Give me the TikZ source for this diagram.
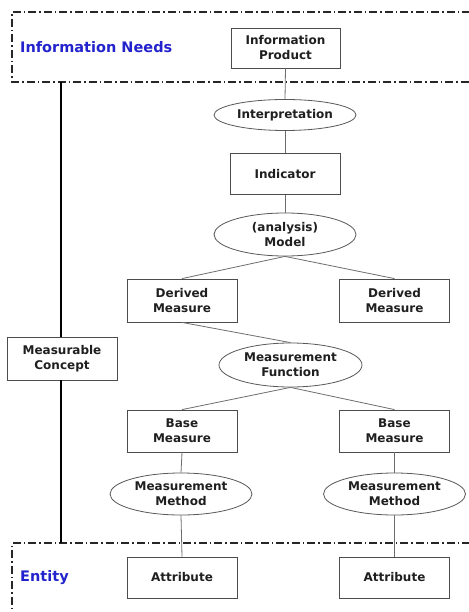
\documentclass[tikz,border=0pt]{standalone}
\usepackage{fontspec}
\setmainfont{DejaVu Sans}
\usetikzlibrary{shapes.geometric}
\definecolor{regblue}{RGB}{35,35,205}
\definecolor{edgegray}{RGB}{110,110,110}
\begin{document}
\begin{tikzpicture}[x=1pt,y=-1pt,
  lbl/.style={font=\fontsize{12}{15}\selectfont\bfseries, text=black!88, align=center, inner sep=0pt},
  boxnode/.style={lbl, draw=black!70, line width=0.8pt, minimum width=110pt, minimum height=41pt},
  ellnode/.style={lbl, ellipse, draw=black!65, line width=0.8pt, minimum width=142pt},
  link/.style={draw=edgegray, line width=0.8pt},
  region/.style={draw=black!85, line width=1.4pt, dash pattern=on 8pt off 3pt on 1.5pt off 3pt},
  regionlabel/.style={font=\fontsize{14.5}{17}\selectfont\bfseries, text=regblue, anchor=west, inner sep=0pt},
  spine/.style={draw=black, line width=2.4pt}]
\useasboundingbox (0,0) rectangle (468,612);
\fill[white] (0,0) rectangle (468,612);
% regions
\draw[region] (470,12) -- (12,12) -- (12,82) -- (470,82);
\draw[region] (470,543) -- (12,543) -- (12,616);
\node[regionlabel] (needs) at (20,47) {Information Needs};
\node[regionlabel] (entity) at (20,578) {Entity};
% nodes
\node[boxnode, minimum width=109pt, minimum height=40pt] (prod) at (285.5,48) {Information\\Product};
\node[ellnode, minimum height=31pt] (interp) at (285,115) {Interpretation};
\node[boxnode] (ind) at (285,174) {Indicator};
\node[ellnode, minimum height=43pt] (model) at (285,234.5) {(analysis)\\Model};
\node[boxnode, minimum height=43pt] (dml) at (182,300.5) {Derived\\Measure};
\node[boxnode, minimum height=43pt] (dmr) at (394.5,300.5) {Derived\\Measure};
\node[boxnode, minimum height=43pt] (concept) at (62,358.5) {Measurable\\Concept};
\node[ellnode, minimum width=143pt, minimum height=44pt] (mfun) at (290.5,365) {Measurement\\Function};
\node[boxnode, minimum height=42pt] (bml) at (182,431) {Base\\Measure};
\node[boxnode, minimum height=42pt] (bmr) at (394.5,431) {Base\\Measure};
\node[ellnode, minimum height=42pt] (mml) at (181,494) {Measurement\\Method};
\node[ellnode, minimum height=42pt] (mmr) at (394.5,494) {Measurement\\Method};
\node[boxnode] (attl) at (182,577.5) {Attribute};
\node[boxnode] (attr) at (394.5,577.5) {Attribute};
% spine
\coordinate (spinetop) at (61,82);
\coordinate (spinebot) at (61,543);
\draw[spine] (spinetop) -- (concept.north -| spinetop);
\draw[spine] (concept.south -| spinetop) -- (spinebot);
% links
\draw[link] (prod.south) -- (interp.north);
\draw[link] (interp.south) -- (ind.north);
\draw[link] (ind.south) -- (model.north);
\draw[link] (model.south) -- (dml.north);
\draw[link] (model.south) -- (dmr.north);
\draw[link] (dml.south) -- (mfun.north);
\draw[link] (mfun.south) -- (bml.north);
\draw[link] (mfun.south) -- (bmr.north);
\draw[link] (bml.south) -- (mml.north);
\draw[link] (bmr.south) -- (mmr.north);
\draw[link] (mml.south) -- (attl.north);
\draw[link] (mmr.south) -- (attr.north);
\end{tikzpicture}
\end{document}
